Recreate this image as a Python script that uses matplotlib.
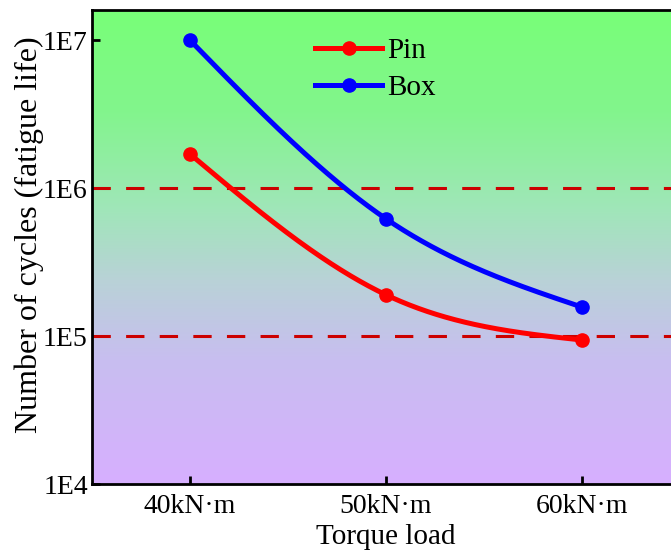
import numpy as np
import matplotlib
matplotlib.use('Agg')
import matplotlib.pyplot as plt
from matplotlib.colors import LinearSegmentedColormap

plt.rcParams['font.family'] = ['Liberation Serif', 'DejaVu Serif']

# dados
cargas = ['40kN·m', '50kN·m', '60kN·m']
pin = [1.7e6, 1.9e5, 9.4e4]
box = [1.0e7, 6.2e5, 1.57e5]
limites = [1e6, 1e5]
yticks = [1e4, 1e5, 1e6, 1e7]
yticklabels = ['1E4', '1E5', '1E6', '1E7']


def spline_natural(y, n=200):
    # spline cubica natural em espaco log (pontos igualmente espacados)
    ly = np.log10(y)
    m1 = 1.5 * (ly[0] - 2 * ly[1] + ly[2])
    M = [0.0, m1, 0.0]
    xs, ys = [], []
    for i in range(2):
        t = np.linspace(0, 1, n)
        a = 1 - t
        s = a * ly[i] + t * ly[i + 1] + ((a**3 - a) * M[i] + (t**3 - t) * M[i + 1]) / 6.0
        xs.append(i + t)
        ys.append(s)
    return np.concatenate(xs), 10 ** np.concatenate(ys)


fig = plt.figure(figsize=(6.71, 5.51), dpi=100)
ax = fig.add_axes([92 / 671, 67 / 551, 588 / 671, 474 / 551])

ax.set_xlim(-0.5, 2.5)
ax.set_yscale('log')
ax.set_ylim(1e4, 1.6e7)

# fundo em degrade (de baixo para cima)
cores = [(0.0, (215/255, 175/255, 1.0)),
         (0.26, (200/255, 190/255, 240/255)),
         (0.43, (185/255, 210/255, 215/255)),
         (0.58, (160/255, 230/255, 185/255)),
         (0.79, (130/255, 245/255, 140/255)),
         (1.0, (120/255, 1.0, 120/255))]
cmap = LinearSegmentedColormap.from_list('fundo', cores)
grad = np.linspace(0, 1, 256).reshape(-1, 1)
ax.imshow(grad, cmap=cmap, aspect='auto', origin='lower',
          extent=[0, 1, 0, 1], transform=ax.transAxes, zorder=0)

for v in limites:
    ax.axhline(v, color='#CC0000', lw=2.2, dashes=(6, 5), zorder=2)

x = np.arange(len(cargas))
for dados, cor, nome in [(pin, '#FF0000', 'Pin'), (box, '#0000FF', 'Box')]:
    xs, ys = spline_natural(dados)
    ax.plot(xs, ys, color=cor, lw=3.6, zorder=3)
    ax.plot(x, dados, 'o', color=cor, ms=9.5, zorder=4)
    ax.plot([], [], '-o', color=cor, lw=3.6, ms=9.5, label=nome)

ax.set_xticks(x)
ax.set_xticklabels(cargas, fontsize=20)
ax.set_yticks(yticks)
ax.set_yticklabels(yticklabels, fontsize=20)
ax.minorticks_off()
ax.tick_params(direction='in', length=6, width=2, pad=3)
ax.tick_params(axis='x', pad=7)
for lado in ['left', 'bottom', 'top']:
    ax.spines[lado].set_linewidth(2)
ax.spines['right'].set_visible(False)

ax.set_xlabel('Torque load', fontsize=21)
ax.xaxis.set_label_coords(0.5, -0.085)
ax.set_ylabel('Number of cycles (fatigue life)', fontsize=23)
ax.yaxis.set_label_coords(-0.082, 0.525)

ax.legend(loc='upper left', bbox_to_anchor=(0.36, 0.966), frameon=False, fontsize=21,
          handlelength=2.3, handletextpad=0.15, labelspacing=0.35,
          borderaxespad=0.0)

plt.savefig('out.png', dpi=100)
